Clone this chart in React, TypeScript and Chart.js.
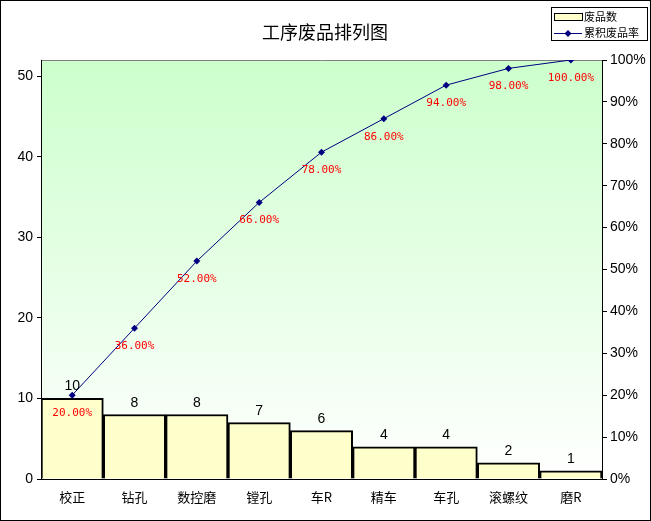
import { useEffect, useRef } from 'react';
import { Chart, ChartConfiguration, Plugin, registerables } from 'chart.js';

Chart.register(...registerables);

const categories = ['校正', '钻孔', '数控磨', '镗孔', '车R', '精车', '车孔', '滚螺纹', '磨R'];
const defectCounts = [10, 8, 8, 7, 6, 4, 4, 2, 1];
const cumulativePct = [20, 36, 52, 66, 78, 86, 94, 98, 100];
const countTicks = [0, 10, 20, 30, 40, 50];
const pctTicks = [0, 10, 20, 30, 40, 50, 60, 70, 80, 90, 100];

const TITLE = '工序废品排列图';
const LEGEND_BAR = '废品数';
const LEGEND_LINE = '累积废品率';

const CJK = '"Noto Sans CJK SC", "DejaVu Sans", sans-serif';
const SANS = '"Liberation Sans", Arial, sans-serif';
const MONO = '"DejaVu Sans Mono", "Liberation Mono", monospace';

// gradient plot background + gray frame
const backgroundPlugin: Plugin = {
  id: 'plotBg',
  beforeDraw(chart) {
    const { ctx, chartArea: a } = chart;
    const g = ctx.createLinearGradient(0, a.top, 0, a.bottom);
    g.addColorStop(0, '#ccffcc');
    g.addColorStop(1, '#ffffff');
    ctx.save();
    ctx.fillStyle = g;
    ctx.fillRect(a.left, a.top, a.right - a.left, a.bottom - a.top);
    ctx.strokeStyle = '#808080';
    ctx.lineWidth = 1;
    ctx.beginPath();
    ctx.moveTo(a.left, a.top + 0.5);
    ctx.lineTo(a.right, a.top + 0.5);
    ctx.stroke();
    ctx.restore();
  },
};

// title, legend box and value labels
const labelsPlugin: Plugin = {
  id: 'labels',
  afterDraw(chart) {
    const { ctx } = chart;
    ctx.save();

    ctx.fillStyle = '#000';
    ctx.font = `18px ${CJK}`;
    ctx.textAlign = 'center';
    ctx.textBaseline = 'middle';
    ctx.fillText(TITLE, 324, 31);

    const barMeta = chart.getDatasetMeta(0);
    ctx.font = `14px ${SANS}`;
    ctx.textBaseline = 'alphabetic';
    barMeta.data.forEach((el: any, i) => {
      ctx.fillText(String(defectCounts[i]), el.x, el.y - 8);
    });

    const lineMeta = chart.getDatasetMeta(1);
    ctx.fillStyle = '#ff0000';
    ctx.font = `11px ${MONO}`;
    ctx.textBaseline = 'middle';
    lineMeta.data.forEach((el: any, i) => {
      ctx.fillText(cumulativePct[i].toFixed(2) + '%', el.x, el.y + 18);
    });

    // legend
    const lx = 550;
    const ly = 6;
    ctx.fillStyle = '#fff';
    ctx.fillRect(lx, ly, 96, 33);
    ctx.strokeStyle = '#000';
    ctx.lineWidth = 1;
    ctx.strokeRect(lx + 0.5, ly + 0.5, 96, 33);

    ctx.fillStyle = '#ffffcc';
    ctx.fillRect(lx + 3, ly + 6, 28, 7);
    ctx.strokeRect(lx + 3.5, ly + 6.5, 28, 7);

    ctx.strokeStyle = '#000080';
    ctx.beginPath();
    ctx.moveTo(lx + 3, ly + 26.5);
    ctx.lineTo(lx + 31, ly + 26.5);
    ctx.stroke();
    ctx.fillStyle = '#000080';
    ctx.beginPath();
    ctx.moveTo(lx + 17, ly + 23);
    ctx.lineTo(lx + 20.5, ly + 26.5);
    ctx.lineTo(lx + 17, ly + 30);
    ctx.lineTo(lx + 13.5, ly + 26.5);
    ctx.closePath();
    ctx.fill();

    ctx.fillStyle = '#000';
    ctx.font = `11px ${CJK}`;
    ctx.textAlign = 'left';
    ctx.textBaseline = 'middle';
    ctx.fillText(LEGEND_BAR, lx + 33, ly + 10);
    ctx.fillText(LEGEND_LINE, lx + 33, ly + 26);

    ctx.restore();
  },
};

export default function App() {
  const chartRef = useRef<HTMLCanvasElement>(null);
  const chartInstance = useRef<Chart | null>(null);

  useEffect(() => {
    if (!chartRef.current) return;
    const ctx = chartRef.current.getContext('2d');
    if (!ctx) return;

    if (chartInstance.current) {
      chartInstance.current.destroy();
    }

    const config: ChartConfiguration = {
      type: 'bar',
      data: {
        labels: categories,
        datasets: [
          {
            type: 'bar',
            label: LEGEND_BAR,
            data: defectCounts,
            backgroundColor: '#ffffcc',
            borderColor: '#000000',
            borderWidth: 2,
            categoryPercentage: 1,
            barPercentage: 1,
            yAxisID: 'y',
            order: 1,
          },
          {
            type: 'line',
            label: LEGEND_LINE,
            data: cumulativePct,
            borderColor: '#000080',
            backgroundColor: '#000080',
            borderWidth: 1,
            pointStyle: 'rectRot',
            pointRadius: 3.5,
            pointBorderWidth: 0,
            fill: false,
            yAxisID: 'y1',
            order: 0,
          } as any,
        ],
      },
      options: {
        responsive: false,
        animation: false,
        layout: { padding: { top: 59, left: 0, right: 0, bottom: 0 } },
        plugins: {
          legend: { display: false },
          title: { display: false },
          tooltip: { enabled: false },
        },
        scales: {
          x: {
            offset: true,
            grid: { display: false, drawTicks: false },
            border: { color: '#000000', width: 1 },
            ticks: {
              color: '#000',
              font: { family: CJK, size: 13 },
              padding: 10,
              maxRotation: 0,
            },
            afterFit: (scale: any) => {
              scale.height = 41;
            },
          },
          y: {
            type: 'linear',
            position: 'left',
            min: 0,
            max: 52,
            afterBuildTicks: (scale: any) => {
              scale.ticks = countTicks.map((v) => ({ value: v }));
            },
            grid: { drawOnChartArea: false, tickLength: 4, color: '#000' },
            border: { color: '#000000', width: 1 },
            ticks: {
              color: '#000',
              font: { family: SANS, size: 14 },
              padding: 4,
            },
            afterFit: (scale: any) => {
              scale.width = 40;
            },
          },
          y1: {
            type: 'linear',
            position: 'right',
            min: 0,
            max: 100,
            afterBuildTicks: (scale: any) => {
              scale.ticks = pctTicks.map((v) => ({ value: v }));
            },
            grid: { drawOnChartArea: false, tickLength: 5, color: '#000' },
            border: { color: '#000000', width: 1 },
            ticks: {
              color: '#000',
              font: { family: SANS, size: 14 },
              padding: 3,
              callback: (v: any) => `${v}%`,
            },
            afterFit: (scale: any) => {
              scale.width = 48;
            },
          },
        },
      },
      plugins: [backgroundPlugin, labelsPlugin],
    };

    chartInstance.current = new Chart(ctx, config);

    return () => {
      if (chartInstance.current) {
        chartInstance.current.destroy();
        chartInstance.current = null;
      }
    };
  }, []);

  return (
    <div
      style={{
        position: 'fixed',
        left: 0,
        top: 0,
        width: 651,
        height: 521,
        boxSizing: 'border-box',
        border: '1px solid #000',
        background: '#fff',
      }}
    >
      <canvas ref={chartRef} width={649} height={519} style={{ display: 'block' }} />
    </div>
  );
}
